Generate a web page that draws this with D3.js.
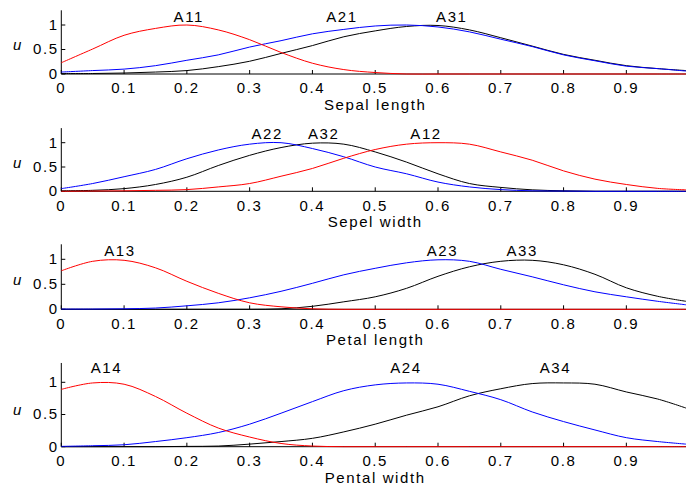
<!DOCTYPE html>
<html><head><meta charset="utf-8">
<script src="https://cdn.jsdelivr.net/npm/d3@7"></script>
<style>
body{margin:0;background:#fff;}
svg text{font-family:"Liberation Sans",Arial,sans-serif;font-size:15px;letter-spacing:1.6px;fill:#000;}
</style></head><body>
<svg id="chart" width="687" height="485"></svg>
<script>
// ---- data ----
const xs = [0,0.05,0.1,0.15,0.2,0.25,0.3,0.35,0.4,0.45,0.5,0.55,0.6,0.65,0.7,0.75,0.8,0.85,0.9,0.95,0.995];
const xTicks = [0,0.1,0.2,0.3,0.4,0.5,0.6,0.7,0.8,0.9];
const xTickLabels = ["0","0.1","0.2","0.3","0.4","0.5","0.6","0.7","0.8","0.9"];
const yTicks = [0,0.5,1];
const yTickLabels = ["0","0.5","1"];
const yLabel = "u";
const axisTitles = ["Sepal length","Sepel width","Petal length","Pental width"];

// Sepal length
const A11 = [0.23,0.51,0.79,0.93,1.0,0.90,0.70,0.44,0.22,0.09,0.03,0,0,0,0,0,0,0,0,0,0];
const A21 = [0.04,0.07,0.10,0.17,0.28,0.39,0.55,0.68,0.82,0.91,0.98,1.0,0.96,0.86,0.71,0.56,0.39,0.27,0.16,0.11,0.06];
const A31 = [0.01,0.01,0.02,0.04,0.07,0.15,0.26,0.42,0.58,0.76,0.88,0.97,0.99,0.90,0.74,0.57,0.40,0.28,0.17,0.11,0.07];
// Sepel width
const A12 = [0,0.005,0.01,0.02,0.035,0.09,0.16,0.31,0.47,0.68,0.86,0.97,1.0,0.97,0.81,0.64,0.42,0.25,0.14,0.06,0.03];
const A22 = [0.055,0.16,0.30,0.45,0.67,0.85,0.97,1.0,0.88,0.71,0.50,0.36,0.19,0.09,0.035,0.01,0.005,0,0,0,0];
const A32 = [0.01,0.02,0.055,0.14,0.29,0.53,0.74,0.90,0.99,0.97,0.81,0.60,0.36,0.16,0.08,0.03,0.01,0,0,0,0];
// Petal length
const A13 = [0.77,0.96,0.98,0.83,0.56,0.32,0.13,0.05,0.01,0,0,0,0,0,0,0,0,0,0,0,0];
const A23 = [0.005,0.005,0.01,0.025,0.07,0.13,0.23,0.36,0.52,0.69,0.82,0.93,0.99,0.96,0.80,0.65,0.49,0.35,0.25,0.16,0.09];
const A33 = [0,0,0,0,0,0,0,0.01,0.06,0.15,0.25,0.42,0.66,0.85,0.96,0.98,0.89,0.70,0.43,0.26,0.16];
// Pental width
const A14 = [0.89,0.99,0.97,0.78,0.52,0.29,0.15,0.05,0.01,0,0,0,0,0,0,0,0,0,0,0,0];
const A24 = [0.005,0.015,0.03,0.08,0.14,0.22,0.35,0.52,0.70,0.87,0.96,0.99,0.97,0.86,0.73,0.54,0.39,0.26,0.14,0.08,0.04];
const A34 = [0,0,0,0,0.005,0.01,0.04,0.08,0.13,0.23,0.35,0.49,0.62,0.79,0.90,0.98,0.99,0.97,0.85,0.74,0.60];

const setNames = [["A11","A21","A31"],["A12","A22","A32"],["A13","A23","A33"],["A14","A24","A34"]];
const setValues = [[A11,A21,A31],[A12,A22,A32],[A13,A23,A33],[A14,A24,A34]];
const labelX = [[0.203,0.447,0.622],[0.581,0.328,0.418],[0.0935,0.607,0.734],[0.072,0.549,0.787]];
const colors = ["#ff0000","#0000ff","#000000"];

// ---- layout ----
const panels = [
  {y0:74, y1:25, labelDy:3.3},
  {y0:191.3, y1:142.7, labelDy:3.4},
  {y0:309.3, y1:259.3, labelDy:3.3},
  {y0:446.7, y1:382.3, labelDy:9}
];
const svg = d3.select("#chart");
const x = d3.scaleLinear().domain([0, xs[xs.length-1]]).range([61.3, 686]);

panels.forEach((p, i) => {
  const y = d3.scaleLinear().domain([0, 1.3]).range([p.y0, p.y0 - 1.3*(p.y0 - p.y1)]);
  const g = svg.append("g");

  const xa = d3.axisBottom(x).tickValues(xTicks).tickFormat((d,k)=>xTickLabels[k])
    .tickSizeInner(-4).tickSizeOuter(0).tickPadding(8.8).offset(0);
  const gx = g.append("g").attr("transform", `translate(0,${p.y0})`).call(xa);
  const ya = d3.axisLeft(y).tickValues(yTicks).tickFormat((d,k)=>yTickLabels[k])
    .tickSizeInner(-4).tickSizeOuter(0).tickPadding(2.6).offset(0);
  const gy = g.append("g").attr("transform", `translate(${x(0)},0)`).call(ya);
  [gx, gy].forEach(a => {
    a.select(".domain").attr("stroke", "#000").attr("stroke-width", 1);
    a.selectAll(".tick line").attr("stroke", "#000");
  });

  g.append("text").attr("x", x(0.5)).attr("y", p.y0 + 36)
    .attr("text-anchor", "middle").text(axisTitles[i]);
  g.append("text").attr("x", 18).attr("y", y(0.5) + 0.5)
    .attr("text-anchor", "middle").style("font-style", "italic").text(yLabel);

  const line = d3.line().x((d,k)=>x(xs[k])).y(d=>y(Math.max(0, d))).curve(d3.curveCatmullRom.alpha(0.5));
  [2,1,0].forEach(j => {
    g.append("path").datum(setValues[i][j]).attr("d", line)
      .attr("fill", "none").attr("stroke", colors[j]).attr("stroke-width", 1);
  });
  setNames[i].forEach((nm, j) => {
    g.append("text").attr("x", x(labelX[i][j])).attr("y", y(1) - p.labelDy)
      .attr("text-anchor", "middle").text(nm);
  });
});
</script>
</body></html>
